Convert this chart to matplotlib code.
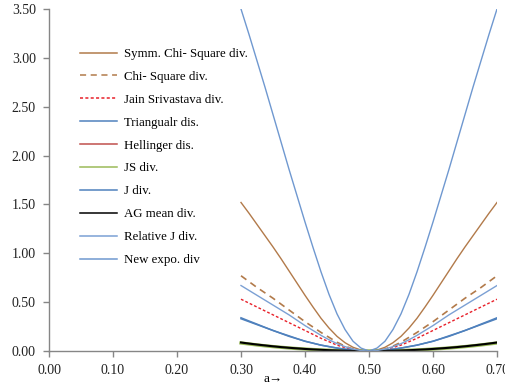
import matplotlib
matplotlib.use("Agg")
import matplotlib.pyplot as plt

plt.rcParams['font.family'] = ['Liberation Serif', 'DejaVu Serif']

a = [0.3000, 0.3125, 0.3250, 0.3375, 0.3500, 0.3625, 0.3750, 0.3875,
     0.4000, 0.4125, 0.4250, 0.4375, 0.4500, 0.4625, 0.4750, 0.4875,
     0.5000,
     0.5125, 0.5250, 0.5375, 0.5500, 0.5625, 0.5750, 0.5875, 0.6000,
     0.6125, 0.6250, 0.6375, 0.6500, 0.6625, 0.6750, 0.6875, 0.7000]

symm_chi = [1.52, 1.41, 1.295, 1.18, 1.065, 0.945, 0.82, 0.695,
            0.57, 0.45, 0.335, 0.235, 0.15, 0.085, 0.038, 0.01,
            0.0,
            0.01, 0.038, 0.085, 0.15, 0.235, 0.335, 0.45, 0.57,
            0.695, 0.82, 0.945, 1.065, 1.18, 1.295, 1.41, 1.52]
chi_sq = [0.77, 0.71, 0.65, 0.595, 0.54, 0.48, 0.42, 0.36,
          0.30, 0.245, 0.19, 0.14, 0.09, 0.05, 0.02, 0.005,
          0.0,
          0.005, 0.02, 0.05, 0.09, 0.14, 0.19, 0.245, 0.30,
          0.36, 0.42, 0.48, 0.54, 0.595, 0.65, 0.71, 0.77]
jain_sri = [0.53, 0.49, 0.45, 0.41, 0.37, 0.33, 0.29, 0.25,
            0.21, 0.17, 0.13, 0.095, 0.06, 0.035, 0.015, 0.004,
            0.0,
            0.004, 0.015, 0.035, 0.06, 0.095, 0.13, 0.17, 0.21,
            0.25, 0.29, 0.33, 0.37, 0.41, 0.45, 0.49, 0.53]
triang = [0.33, 0.30, 0.27, 0.24, 0.21, 0.18, 0.15, 0.125,
          0.10, 0.08, 0.06, 0.045, 0.03, 0.018, 0.008, 0.002,
          0.0,
          0.002, 0.008, 0.018, 0.03, 0.045, 0.06, 0.08, 0.10,
          0.125, 0.15, 0.18, 0.21, 0.24, 0.27, 0.30, 0.33]
hellinger = [0.084, 0.074, 0.064, 0.055, 0.047, 0.039, 0.032, 0.026,
             0.020, 0.015, 0.011, 0.008, 0.005, 0.003, 0.001, 0.0003,
             0.0,
             0.0003, 0.001, 0.003, 0.005, 0.008, 0.011, 0.015, 0.020,
             0.026, 0.032, 0.039, 0.047, 0.055, 0.064, 0.074, 0.084]
js_div = [0.082, 0.072, 0.062, 0.053, 0.045, 0.038, 0.031, 0.025,
          0.020, 0.015, 0.011, 0.008, 0.005, 0.003, 0.001, 0.0003,
          0.0,
          0.0003, 0.001, 0.003, 0.005, 0.008, 0.011, 0.015, 0.020,
          0.025, 0.031, 0.038, 0.045, 0.053, 0.062, 0.072, 0.082]
j_div = [0.34, 0.307, 0.275, 0.242, 0.21, 0.182, 0.155, 0.127,
         0.10, 0.08, 0.06, 0.045, 0.03, 0.018, 0.008, 0.002,
         0.0,
         0.002, 0.008, 0.018, 0.03, 0.045, 0.06, 0.08, 0.10,
         0.127, 0.155, 0.182, 0.21, 0.242, 0.275, 0.307, 0.34]
ag_mean = [0.087, 0.076, 0.066, 0.057, 0.048, 0.040, 0.033, 0.027,
           0.021, 0.016, 0.012, 0.008, 0.005, 0.003, 0.001, 0.0003,
           0.0,
           0.0003, 0.001, 0.003, 0.005, 0.008, 0.012, 0.016, 0.021,
           0.027, 0.033, 0.040, 0.048, 0.057, 0.066, 0.076, 0.087]
rel_j = [0.67, 0.62, 0.57, 0.52, 0.47, 0.42, 0.37, 0.315,
         0.26, 0.21, 0.16, 0.115, 0.075, 0.045, 0.02, 0.005,
         0.0,
         0.005, 0.02, 0.045, 0.075, 0.115, 0.16, 0.21, 0.26,
         0.315, 0.37, 0.42, 0.47, 0.52, 0.57, 0.62, 0.67]
new_expo = [3.50, 3.24, 2.97, 2.70, 2.42, 2.14, 1.86, 1.59,
            1.32, 1.06, 0.81, 0.58, 0.38, 0.22, 0.10, 0.03,
            0.0,
            0.03, 0.10, 0.22, 0.38, 0.58, 0.81, 1.06, 1.32,
            1.59, 1.86, 2.14, 2.42, 2.70, 2.97, 3.24, 3.50]

x_ticks = [0.0, 0.1, 0.2, 0.3, 0.4, 0.5, 0.6, 0.7]
y_ticks = [0.0, 0.5, 1.0, 1.5, 2.0, 2.5, 3.0, 3.5]

fig = plt.figure(figsize=(5.05, 3.87), dpi=100)
ax = fig.add_axes([49/505, 1 - 351/387, (497-49)/505, (351-9)/387])

brown = '#B27A4A'
ax.plot(a, symm_chi, color=brown, lw=1.0, label='Symm. Chi- Square div.')
ax.plot(a, chi_sq, color=brown, lw=1.2, ls=(0, (4, 3)), label='Chi- Square div.')
ax.plot(a, jain_sri, color='#E8202A', lw=1.0, ls=(0, (2, 1.5)), label='Jain Srivastava div.')
ax.plot(a, triang, color='#4F81BD', lw=1.1, label='Triangualr dis.')
ax.plot(a, hellinger, color='#C0504D', lw=1.1, label='Hellinger dis.')
ax.plot(a, js_div, color='#9BBB59', lw=2.4, label='JS div.')
ax.plot(a, j_div, color='#4F81BD', lw=1.1, label='J div.')
ax.plot(a, ag_mean, color='#000000', lw=1.5, label='AG mean div.')
ax.plot(a, rel_j, color='#7BA0D4', lw=1.0, label='Relative J div.')
ax.plot(a, new_expo, color='#6F98D0', lw=1.0, label='New expo. div')

ax.set_xlim(0, 0.7)
ax.set_ylim(0, 3.5)
ax.set_xticks(x_ticks)
ax.set_yticks(y_ticks)
ax.set_xticklabels([f'{v:.2f}' for v in x_ticks])
ax.set_yticklabels([f'{v:.2f}' for v in y_ticks])
ax.tick_params(axis='both', labelsize=10, color='#868686', length=4, width=1, labelcolor='#222222')
ax.tick_params(axis='x', pad=5.5)
ax.tick_params(axis='y', pad=5.5)
for s in ['top', 'right']:
    ax.spines[s].set_visible(False)
for s in ['left', 'bottom']:
    ax.spines[s].set_color('#868686')
    ax.spines[s].set_linewidth(1)
ax.set_xlabel('a→', fontsize=9.5, labelpad=-3)

leg = ax.legend(loc='upper left', bbox_to_anchor=(0.044, 0.92), frameon=False, fontsize=9.3,
                handlelength=2.8, labelspacing=0.84, handletextpad=0.6)
for ln in leg.get_lines():
    ln.set_linewidth(1.1)

fig.savefig('out.png', dpi=100)
